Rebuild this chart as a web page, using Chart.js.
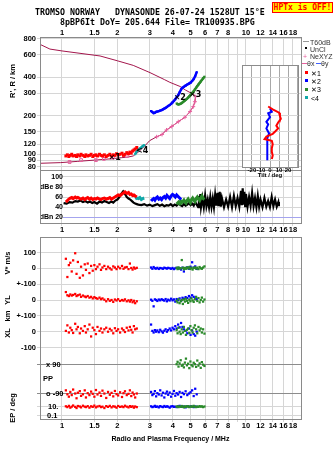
<!DOCTYPE html>
<html>
<head>
<meta charset="utf-8">
<script src="https://cdn.jsdelivr.net/npm/chart.js@4.4.1/dist/chart.umd.min.js"></script>
<style>
  body { margin: 0; background: #fff; }
  #wrap { position: relative; width: 335px; height: 451px; overflow: hidden; font-family: 'Liberation Sans', Arial, sans-serif; }
  canvas { position: absolute; left: 0; top: 0; }
  .t { position: absolute; white-space: pre; line-height: 1; color: #000; }
  .hdr { font-family: 'DejaVu Sans Mono', monospace; font-weight: bold; font-size: 8.3px; transform: scaleY(1.15); transform-origin: 0 0; }
  #hptx { position: absolute; left: 272px; top: 2px; width: 61px; height: 11px; box-sizing: border-box; border: 1px solid #ff0000; background: #ffff00; color: #ff0000;
          font-family: 'DejaVu Sans Mono', monospace; font-weight: bold; font-size: 8px; line-height: 9px; text-align: center; }
  .mid { transform: translateY(-50%); font-size: 7.5px; font-weight: bold; }
  .rot { transform: translate(-50%, -50%) rotate(-90deg); font-size: 7.5px; font-weight: bold; }
  .ctr { transform: translate(-50%, -50%); font-weight: bold; }
  .lg { transform: translateY(-50%); font-size: 7px; color: #333; }
  .sw { position: absolute; }
</style>
</head>
<body>
<div id="wrap">
  <canvas id="cTop" width="335" height="451"></canvas>
  <canvas id="cDb" width="335" height="451"></canvas>
  <canvas id="cAttr" width="335" height="451"></canvas>
  <canvas id="cTilt" width="335" height="451"></canvas>

  <div class="t hdr" style="left:35px;top:7.4px">TROMSO NORWAY   DYNASONDE 26-07-24 1528UT 15°E</div>
  <div class="t hdr" style="left:60px;top:16.7px">8pBP6It DoY= 205.644 File= TR100935.BPG</div>
  <div id="hptx">HPTx is OFF!</div>

  <!-- legend -->
  <div class="sw" style="left:303px;top:41px;width:6px;height:1px;background:#999"></div>
  <div class="t lg" style="left:310px;top:41.7px">T60dB</div>
  <div class="sw" style="left:305px;top:47px;width:2px;height:2px;background:#000"></div>
  <div class="t lg" style="left:310px;top:48.5px">UnCl</div>
  <div class="t lg" style="left:303px;top:55.7px;color:#e8609e">+</div>
  <div class="t lg" style="left:310px;top:55.7px">NeXYZ</div>
  <div class="sw" style="left:302px;top:63px;width:5px;height:1px;background:#e8609e"></div>
  <div class="t lg" style="left:307px;top:63.3px">θx</div>
  <div class="sw" style="left:316px;top:63px;width:5px;height:1px;background:#4060ff"></div>
  <div class="t lg" style="left:321px;top:63.3px">θy</div>
  <div class="sw" style="left:305px;top:71px;width:3px;height:3px;background:#ff0000"></div>
  <div class="t lg" style="left:311px;top:72.7px;color:#000">✕1</div>
  <div class="sw" style="left:305px;top:79px;width:3px;height:3px;background:#0000ff"></div>
  <div class="t lg" style="left:311px;top:80.5px;color:#000">✕2</div>
  <div class="sw" style="left:305px;top:87.5px;width:3px;height:3px;background:#2a8a2a"></div>
  <div class="t lg" style="left:311px;top:89px;color:#000">✕3</div>
  <div class="sw" style="left:305px;top:96px;width:3px;height:3px;background:#10a8a8"></div>
  <div class="t lg" style="left:311px;top:97.7px;color:#000">&lt;4</div>

  <!-- axis titles -->
  <div class="t rot" style="left:13px;top:81px">R', R / km</div>
  <div class="t rot" style="left:8px;top:263px">V* m/s</div>
  <div class="t rot" style="left:8px;top:300px">YL</div>
  <div class="t rot" style="left:8px;top:316px">km</div>
  <div class="t rot" style="left:8px;top:333px">XL</div>
  <div class="t rot" style="left:13px;top:408px">EP / deg</div>
  <div class="t mid" style="left:46px;top:365px">x 90</div>
  <div class="t mid" style="left:43px;top:378.7px">PP</div>
  <div class="t mid" style="left:46px;top:393.7px">o -90</div>
  <div class="t mid" style="left:48px;top:406.7px">10.</div>
  <div class="t mid" style="left:47px;top:415.7px">0.1</div>
  <div class="t ctr" style="left:170.5px;top:438px;font-size:7px">Radio and Plasma Frequency / MHz</div>
  <div class="t ctr" style="left:270px;top:175px;font-size:6px">Tilt / deg</div>
</div>

<script>
// ---------- axis ticks ----------
const FREQ_TICKS = [1, 1.5, 2, 3, 4, 5, 6, 7, 8, 9, 10, 12, 14, 16, 18];
const TOP_FREQ_LABELS = ['1', '1.5', '2', '3', '4', '5', '6', '7', '8', '', '10', '12', '14', '16', '18'];
const MID_FREQ_LABELS = ['1', '1.5', '2', '3', '4', '5', '6', '7', '8', '9', '10', '12', '14', '16', '18'];
const RANGE_TICKS = [80, 90, 100, 120, 150, 200, 300, 400, 600, 800];
const DB_TICKS = [20, 40, 60, 80, 100];
const DB_LABELS = ['dBn 20', '40', '60', 'dBe 80', '100'];
const ATTR_TICKS = [100, 0, -100, -200, -300, -400, -500, -610, -790, -873, -930];
const ATTR_LABELS = ['100', '0', '+-100', '0', '+-100', '0', '-100', '', '', '', ''];
const TILT_TICKS = [-30, -20, -10, 0, 10, 20, 30];
const TILT_LABELS = ['', '-20', '-10', '0', '10', '20', ''];
const TILT_RANGE_TICKS = [90, 100, 120, 150, 200, 300, 400];

// ---------- echo 1 (red) ----------
const redFreq = [1.05, 1.07, 1.09, 1.11, 1.13, 1.15, 1.18, 1.2, 1.22, 1.25, 1.27, 1.3, 1.33, 1.35, 1.38, 1.41, 1.44, 1.47, 1.5, 1.53,
  1.56, 1.6, 1.63, 1.66, 1.7, 1.74, 1.78, 1.82, 1.86, 1.9, 1.94, 1.98, 2.02, 2.07, 2.12, 2.16, 2.2, 2.25, 2.3, 2.34, 2.38, 2.42, 2.46, 2.5, 2.55];
const redRange = [97, 99, 96, 98, 100, 97, 98, 96, 99, 97, 100, 98, 96, 99, 97, 98, 100, 96, 98, 99,
  97, 100, 98, 97, 99, 96, 98, 100, 97, 99, 98, 101, 99, 100, 102, 98, 100, 103, 101, 104, 102, 106, 108, 110, 113];
const redAmp = [50, 53, 56, 58, 59, 57, 60, 58, 59, 57, 56, 58, 55, 57, 59, 56, 58, 55, 57, 56,
  58, 56, 55, 57, 58, 56, 57, 59, 56, 58, 60, 62, 64, 63, 66, 68, 70, 67, 69, 65, 66, 63, 64, 62, 60];
const redVstar = [60, -55, 20, 35, -20, 50, 95, -35, 40, -60, 10, -45, 25, -10, 30, -30, 15, -15, 20, -5,
  10, 25, -10, 5, 15, -5, 10, 0, -8, 12, 5, -5, 10, 0, 15, -3, 5, 8, -5, 30, 2, -8, 5, -2, 3];
const redYL = [50, 30, 25, 35, 28, 32, 38, 25, 30, 34, 20, 28, 22, 18, 25, 15, 20, 10, 18, 12,
  8, 15, 5, 10, 2, -8, 5, -5, 0, -12, 3, -3, 5, -6, 0, -4, 4, -8, -2, -10, 0, -14, -5, -20, -8];
const redXL = [5, 40, -5, 25, 10, -8, 50, 15, 30, -10, 20, 5, 35, -5, 15, 45, -30, 25, 10, -15,
  30, 5, 20, -5, 15, 25, 0, 18, 8, -10, 22, 5, 15, -5, 20, 10, -2, 25, 8, 30, 12, -5, 35, 15, 20];
const redPP = [-70, -95, -110, -80, -100, -65, -90, -120, -85, -75, -105, -95, -70, -115, -88, -100, -78, -92, -110, -68,
  -96, -84, -105, -72, -90, -118, -80, -98, -86, -108, -74, -94, -102, -82, -112, -88, -76, -100, -92, -70, -106, -84, -96, -115, -90];
const redEP = [12, 8, 15, 6, 10, 18, 9, 5, 14, 11, 7, 16, 10, 8, 13, 6, 12, 9, 17, 7,
  11, 14, 8, 10, 5, 13, 9, 15, 7, 12, 10, 6, 14, 9, 11, 8, 16, 10, 7, 13, 9, 12, 6, 11, 8];

// ---------- echo 2 (blue) ----------
const blueFreq = [3.05, 3.1, 3.15, 3.2, 3.25, 3.3, 3.36, 3.42, 3.48, 3.54, 3.6, 3.66, 3.72, 3.78, 3.85, 3.92, 3.99,
  4.06, 4.13, 4.2, 4.28, 4.36, 4.44, 4.52, 4.6, 4.7, 4.8, 4.9, 5.0, 5.1, 5.2, 5.3, 5.4];
const blueRange = [218, 214, 210, 212, 215, 216, 218, 220, 222, 225, 228, 231, 235, 239, 243, 248, 255,
  262, 270, 280, 290, 305, 322, 332, 338, 345, 352, 358, 364, 375, 388, 410, 440];
const blueAmp = [52, 55, 57, 54, 58, 60, 56, 58, 55, 59, 61, 58, 63, 60, 57, 62, 65,
  63, 60, 64, 61, 58, 55, null, null, null, null, null, null, null, null, null, null];
const blueVstar = [5, -3, 8, 0, -2, 3, -4, 2, 0, -3, 4, 1, -2, 3, 0, -3, 2, -5, 0, 3, -2, 1, -8, 4, -20, 2, 6, -3, 10, 38, 5, 12, -4];
const blueYL = [2, -5, -40, 4, 0, -6, 3, -2, 5, 0, -4, 6, -8, 2, -3, 8, -2, 4, -10, 6, 0, 10, -5, 14, 8, 18, 12, 25, 15, 30, 20, 10, 5];
const blueXL = [45, 5, -5, 10, 0, 8, -3, 12, 2, -6, 6, 15, 0, 10, 20, 8, 25, 15, 35, 20, 45, 28, 55, 30, 15, 5, -10, 20, -20, 8, -15, -25, 0];
const bluePP = [-80, -100, -92, -75, -108, -88, -96, -70, -102, -85, -115, -90, -78, -98, -84, -110, -92,
  -74, -104, -88, -96, -80, -112, -86, -94, -76, -100, -90, -82, -70, -106, -60, -95];
const blueEP = [12, 8, 10, 15, 9, 11, 7, 13, 10, 8, 14, 9, 12, 10, 6, 11, 13, 9, 10, 8, 12, 15, 9, 11, 10, 7, 13, 9, 12, 10, 8, 11, 9];

// ---------- echo 3 (green) ----------
const greenFreq = [4.2, 4.25, 4.3, 4.36, 4.42, 4.48, 4.54, 4.6, 4.66, 4.72, 4.78, 4.85, 4.92, 4.99, 5.06, 5.13, 5.2,
  5.28, 5.36, 5.44, 5.52, 5.6, 5.68, 5.76, 5.85, 5.95];
const greenRange = [250, 247, 246, 247, 249, 252, 256, 260, 264, 268, 272, 278, 284, 290, 297, 304, 312,
  322, 332, 342, 352, 362, 372, 382, 393, 405];
const greenAmp = [46, 48, 50, 47, 52, 49, 51, 54, 50, 48, 53, 56, 52, 49, 55, 58, 54, 51, 57, 60, 56, 53, 58, 62, 57, 55];
const greenVstar = [3, -5, 6, -2, 0, 52, 4, -6, 2, -3, 5, 0, 8, -4, 3, -8, 2, 6, -2, 4, -5, 8, 0, -3, 5, 12];
const greenYL = [-5, -15, 5, -20, -8, 0, -25, 3, -10, 8, -5, -18, 2, -8, 10, -3, -12, 5, 20, -6, 12, -15, 0, 15, -10, 3];
const greenXL = [10, -10, 25, 0, -15, 15, -5, 30, 5, -20, 12, 20, -8, 35, 10, -5, 25, 40, 15, -10, 30, 8, 20, -5, 15, -12];
const greenPP = [95, 110, 80, 100, 120, 85, 92, 75, 105, 130, 88, 98, 70, 112, 90, 82, 104, 95, 78, 118, 86, 100, 72, 108, 92, 84];
const greenEP = [10, 12, 8, 11, 9, 14, 10, 7, 12, 9, 11, 13, 8, 10, 12, 9, 15, 10, 8, 11, 9, 13, 10, 12, 8, 11];

// ---------- echo 4 (cyan) ----------
const cyanFreq = [2.5, 2.55, 2.6, 2.65, 2.7, 2.75, 2.8];
const cyanRange = [100, 106, 109, 111, 113, 116, 118];
const cyanAmp = [56, 58, 57, 59, 55, 57, 58];

// ---------- profile and NeXYZ ----------
const profFreq = [0.76, 0.98, 1.22, 1.5, 1.82, 2.1, 2.28, 2.44, 2.6, 2.8, 3.0, 3.27, 3.5, 3.7, 3.95, 4.29, 4.66, 4.97, 5.17, 5.28, 5.32,
  5.25, 4.7, 4.38, 3.86, 3.6, 3.01, 2.44, 2.0, 1.61, 1.0, 0.86, 0.76];
const profRange = [85, 86, 88, 90, 92, 94, 95, 97, 104, 115, 128, 137, 143, 155, 165, 180, 195, 216, 236, 258, 282,
  292, 318, 340, 366, 385, 436, 497, 540, 589, 645, 667, 726];
const nexFreq = [1.1, 1.27, 1.53, 1.69, 1.89, 2.25, 3.27, 3.5, 3.7, 3.95, 4.29, 4.66, 4.97, 5.17, 5.28, 5.32];
const nexRange = [87, 90, 90, 92, 94, 97, 137, 143, 155, 165, 180, 195, 216, 236, 258, 282];

// echo tags on the range panel
const tagText = ['✕1', '✕2', '✕3', '<4'];
const tagFreq = [1.86, 4.2, 5.09, 2.62];
const tagRange = [94, 277, 292, 107];

// ---------- noise / T60dB (black) ----------
const noiseLevels = [
  [1.02, 48], [1.06, 47], [1.1, 50], [1.14, 49], [1.18, 52], [1.22, 51], [1.26, 53], [1.3, 50], [1.34, 52], [1.38, 49],
  [1.42, 51], [1.46, 48], [1.5, 50], [1.55, 47], [1.6, 51], [1.65, 49], [1.7, 52], [1.75, 50], [1.8, 48], [1.85, 51],
  [1.9, 49], [1.95, 53], [2.0, 55], [2.05, 60], [2.1, 66], [2.15, 71], [2.2, 66], [2.25, 60], [2.3, 57], [2.35, 55],
  [2.4, 52], [2.45, 49], [2.5, 47], [2.55, 46], [2.6, 45], [2.7, 44], [2.8, 46], [2.9, 43], [3.0, 45], [3.1, 42],
  [3.2, 44], [3.3, 46], [3.4, 43], [3.5, 45], [3.6, 42], [3.7, 44], [3.8, 43], [3.9, 46], [4.0, 42], [4.1, 45],
  [4.2, 43], [4.3, 47], [4.4, 44], [4.5, 42], [4.6, 46], [4.7, 43], [4.8, 45], [4.9, 48], [5.0, 44], [5.1, 47],
  [5.2, 43], [5.3, 50], [5.4, 45], [5.5, 40], [5.55, 62], [5.6, 42], [5.65, 66], [5.7, 41], [5.8, 58], [5.9, 40],
  [6.0, 63], [6.1, 42], [6.2, 55], [6.3, 40], [6.4, 60], [6.5, 41], [6.6, 57], [6.7, 40], [6.8, 64], [6.9, 43],
  [7.0, 68], [7.1, 42], [7.2, 70], [7.3, 41], [7.4, 58], [7.6, 40], [7.8, 55], [8.0, 41], [8.2, 60], [8.4, 40],
  [8.6, 62], [8.8, 42], [9.0, 58], [9.2, 41], [9.4, 72], [9.5, 44], [9.6, 77], [9.7, 45], [9.8, 70], [9.9, 42],
  [10.0, 66], [10.2, 41], [10.4, 60], [10.6, 43], [10.8, 68], [11.0, 42], [11.2, 58], [11.4, 40], [11.6, 62], [11.8, 41],
  [12.0, 55], [12.3, 40], [12.6, 58], [12.9, 41], [13.2, 52], [13.5, 40], [13.8, 60], [14.1, 42], [14.4, 55], [14.7, 41],
  [15.0, 50], [15.1, 42]
];

// ---------- tilt inset ----------
const tiltRedDeg = [-2, 3, 10, 11, 12, 9, 7, 9, 6, 3, -4, -6, 2, 3, 2, 2, 3, 2];
const tiltRedRange = [237, 225, 212, 200, 190, 178, 168, 160, 152, 145, 138, 132, 128, 120, 112, 105, 98, 92];
const tiltBlueDeg = [0, 2, -2, 0, -4, -2, -4, -1, -3, -3, -3, -3];
const tiltBlueRange = [229, 216, 210, 196, 180, 172, 160, 146, 134, 118, 105, 90];

// ---------- look ----------
const GRID = '#d6d6d6';
const FRAME = '#8a8a8a';
const MAROON = '#a3164c';
const PINK = '#e8609e';
const RED = '#ff0000', BLUE = '#0000ff', GREEN = '#2a8a2a', CYAN = '#10a8a8';
const TICK_FONT = { size: 7.5, weight: 'bold', lineHeight: 1 };

// shared frequency axis limits (same log mapping in all panels)
const F_MIN = 0.7596, F_MAX = 19.92, F_MIN_DB = 1.0126;

Chart.defaults.font.family = "'Liberation Sans', Arial, sans-serif";
Chart.defaults.color = '#000';
Chart.defaults.animation = false;
Chart.defaults.responsive = false;
Chart.defaults.devicePixelRatio = 1;
Chart.defaults.plugins.legend.display = false;
Chart.defaults.plugins.tooltip.enabled = false;

// frame round each panel (optionally starting left of the chart area)
Chart.register({
  id: 'frame',
  beforeDraw(chart, args, opts) {
    if (!opts.fill) return;
    const a = chart.chartArea;
    chart.ctx.save();
    chart.ctx.fillStyle = opts.fill;
    chart.ctx.fillRect(a.left, a.top, a.right - a.left, a.bottom - a.top);
    chart.ctx.restore();
  },
  afterDatasetsDraw(chart, args, opts) {
    const a = chart.chartArea, ctx = chart.ctx;
    const left = Math.round(opts.left != null ? opts.left : a.left);
    ctx.save();
    ctx.strokeStyle = opts.color || FRAME;
    ctx.lineWidth = 1;
    ctx.strokeRect(left + 0.5, Math.round(a.top) + 0.5, Math.round(a.right) - left, Math.round(a.bottom) - Math.round(a.top));
    ctx.restore();
  }
});

function pts(fs, vs, map) {
  return fs.map((f, i) => ({ x: f, y: vs[i] == null ? null : (map ? map(vs[i]) : vs[i]) }));
}
function dots(data, color, r) {
  return { data, showLine: false, pointStyle: 'rect', pointRadius: r, pointBackgroundColor: color, pointBorderWidth: 0, borderColor: color };
}
function trace(data, color, w) {
  return { data, showLine: true, borderColor: color, borderWidth: w, pointRadius: 0, fill: false };
}
function freqAxis(position, min, labels, height, drawTicks) {
  return {
    type: 'logarithmic', position, min, max: F_MAX,
    afterBuildTicks: s => { s.ticks = FREQ_TICKS.map(v => ({ value: v })); },
    afterFit: s => { s.height = height; },
    ticks: { callback: (v, i) => labels[i], autoSkip: false, maxRotation: 0, minRotation: 0, padding: 0, font: TICK_FONT },
    grid: { color: GRID, drawTicks, tickLength: 3 },
    border: { display: false }
  };
}

// ---------- panel 1: virtual range ----------
new Chart(document.getElementById('cTop'), {
  type: 'scatter',
  data: {
    datasets: [
      dots(pts(redFreq, redRange), RED, 2.1),
      Object.assign(trace(pts(cyanFreq, cyanRange), CYAN, 2.5), { pointRadius: 1.4, pointStyle: 'rect', pointBackgroundColor: CYAN, pointBorderWidth: 0 }),
      Object.assign(trace(pts(blueFreq, blueRange), BLUE, 2.5), { pointRadius: 1.5, pointStyle: 'rect', pointBackgroundColor: BLUE, pointBorderWidth: 0 }),
      Object.assign(trace(pts(greenFreq, greenRange), GREEN, 2.5), { pointRadius: 1.5, pointStyle: 'rect', pointBackgroundColor: GREEN, pointBorderWidth: 0 }),
      {
        data: pts(nexFreq, nexRange), showLine: true, borderWidth: 1,
        segment: { borderColor: c => (c.p0.parsed.x < 3 ? 'rgba(0,0,0,0)' : PINK) },
        pointStyle: c => (c.raw && c.raw.x < 3 ? 'rect' : 'cross'),
        pointRadius: 2, pointBorderColor: PINK, pointBackgroundColor: 'rgba(0,0,0,0)', pointBorderWidth: 1
      },
      trace(pts(profFreq, profRange), MAROON, 1)
    ]
  },
  options: {
    layout: { padding: { left: 0, right: 34, top: 0, bottom: 281 } },
    scales: {
      x: freqAxis('top', F_MIN, TOP_FREQ_LABELS, 37, false),
      y: {
        type: 'logarithmic', min: 75.3, max: 829.2,
        afterBuildTicks: s => { s.ticks = RANGE_TICKS.map(v => ({ value: v })); },
        afterFit: s => { s.width = 40; },
        ticks: { callback: (v, i) => String(RANGE_TICKS[i]), autoSkip: false, padding: 1, font: TICK_FONT },
        grid: { color: GRID, tickLength: 3 },
        border: { display: false }
      }
    }
  },
  plugins: [{
    id: 'echoTags',
    afterDatasetsDraw(chart) {
      const { ctx, scales: { x, y } } = chart;
      ctx.save();
      ctx.font = "bold 8px 'DejaVu Sans'";
      ctx.fillStyle = '#000';
      ctx.textBaseline = 'middle';
      tagText.forEach((t, i) => ctx.fillText(t, x.getPixelForValue(tagFreq[i]) - 3, y.getPixelForValue(tagRange[i])));
      ctx.restore();
    }
  }]
});

// ---------- panel 2: amplitude ----------
new Chart(document.getElementById('cDb'), {
  type: 'scatter',
  data: {
    datasets: [
      trace(pts(redFreq, redAmp), RED, 3),
      trace(pts(cyanFreq, cyanAmp), CYAN, 3),
      trace(pts(blueFreq, blueAmp), BLUE, 3),
      trace(pts(greenFreq, greenAmp), GREEN, 3),
      trace(noiseLevels.map(p => ({ x: p[0], y: p[1] })), '#000', 2.2)
    ]
  },
  options: {
    layout: { padding: { left: 40, right: 34, top: 170, bottom: 218 } },
    scales: {
      x: freqAxis('bottom', F_MIN_DB, MID_FREQ_LABELS, 10, true),
      y: {
        type: 'linear', min: 8.8, max: 113.2,
        afterBuildTicks: s => { s.ticks = DB_TICKS.map(v => ({ value: v })); },
        afterFit: s => { s.width = 23; },
        ticks: { callback: (v, i) => DB_LABELS[i], autoSkip: false, padding: 0, font: { size: 7, weight: 'bold', lineHeight: 1 } },
        grid: { color: c => (c.tick && c.tick.value === 20 ? '#a4a4ee' : GRID), drawTicks: false },
        border: { display: false }
      }
    },
    plugins: { frame: { left: 40 } }
  }
});

// ---------- panel 3: drift velocity, location, polarization, EP ----------
const rowMap = {
  vstar: v => v,
  yl: v => -200 + v,
  xl: v => -400 + v,
  pp: v => -700 + v,
  ep: v => -873 + (Math.log10(v) - 1) * 28.5
};
const echoes = [
  { color: GREEN, f: greenFreq, vstar: greenVstar, yl: greenYL, xl: greenXL, pp: greenPP, ep: greenEP },
  { color: BLUE, f: blueFreq, vstar: blueVstar, yl: blueYL, xl: blueXL, pp: bluePP, ep: blueEP },
  { color: RED, f: redFreq, vstar: redVstar, yl: redYL, xl: redXL, pp: redPP, ep: redEP }
];
const attrSets = [];
echoes.forEach(e => {
  Object.keys(rowMap).forEach(k => attrSets.push(dots(pts(e.f, e[k], rowMap[k]), e.color, 1.6)));
});

new Chart(document.getElementById('cAttr'), {
  type: 'scatter',
  data: { datasets: attrSets },
  options: {
    layout: { padding: { left: 0, right: 34, top: 237, bottom: 20 } },
    scales: {
      x: freqAxis('bottom', F_MIN, TOP_FREQ_LABELS, 12, true),
      y: {
        type: 'linear', min: -950.8, max: 197.5,
        afterBuildTicks: s => { s.ticks = ATTR_TICKS.map(v => ({ value: v })); },
        afterFit: s => { s.width = 40; },
        ticks: { callback: (v, i) => ATTR_LABELS[i], autoSkip: false, padding: 1, font: TICK_FONT },
        grid: { color: c => (c.tick && (c.tick.value === -610 || c.tick.value === -790) ? '#8c8c8c' : GRID), tickLength: 3 },
        border: { display: false }
      }
    }
  }
});

// ---------- tilt inset ----------
new Chart(document.getElementById('cTilt'), {
  type: 'scatter',
  data: {
    datasets: [
      trace(pts(tiltRedDeg, tiltRedRange), RED, 2),
      trace(pts(tiltBlueDeg, tiltBlueRange), BLUE, 2)
    ]
  },
  options: {
    layout: { padding: { left: 242, right: 37, top: 65, bottom: 274 } },
    scales: {
      x: {
        type: 'linear', min: -31, max: 31,
        afterBuildTicks: s => { s.ticks = TILT_TICKS.map(v => ({ value: v })); },
        afterFit: s => { s.height = 10; },
        ticks: { callback: (v, i) => TILT_LABELS[i], autoSkip: false, maxRotation: 0, padding: 0, font: { size: 6, weight: 'bold', lineHeight: 1 } },
        grid: { color: '#a8a8a8', drawTicks: false },
        border: { display: false }
      },
      y: {
        type: 'logarithmic', min: 79.8, max: 500.3,
        afterBuildTicks: s => { s.ticks = TILT_RANGE_TICKS.map(v => ({ value: v })); },
        afterFit: s => { s.width = 0; },
        ticks: { display: false },
        grid: { color: GRID, drawTicks: false },
        border: { display: false }
      }
    },
    plugins: { frame: { fill: '#ffffff', color: '#8c8c8c' } }
  }
});
</script>
</body>
</html>
